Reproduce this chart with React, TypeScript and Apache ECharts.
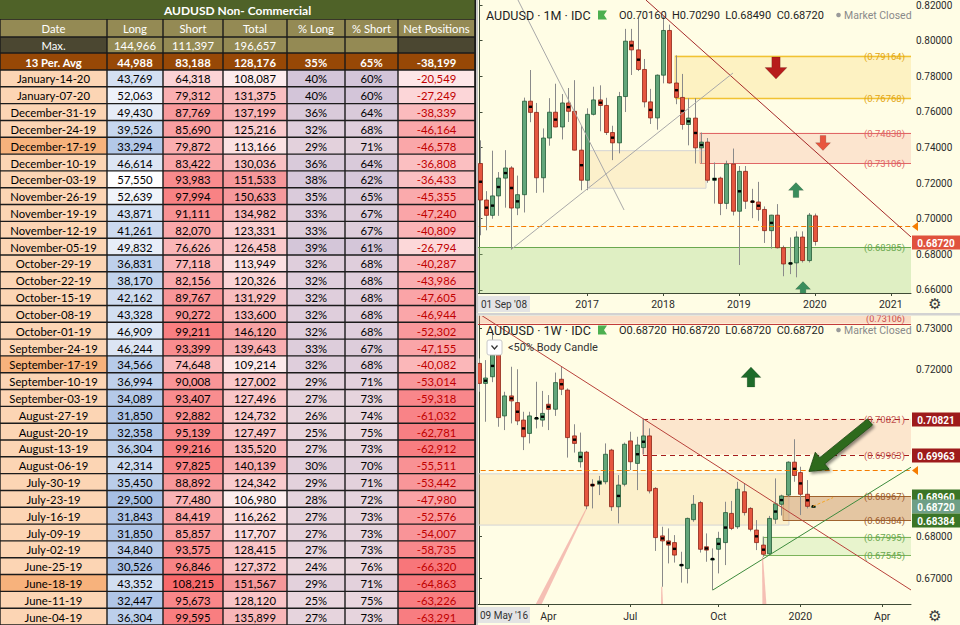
import React, { useEffect, useRef } from "react";
import * as echarts from "echarts";

// ================= COT TABLE DATA =================
const TABLE_TITLE = "AUDUSD Non- Commercial";
const HEADERS = ["Date", "Long", "Short", "Total", "% Long", "% Short", "Net Positions"];
const MAX_LABEL = "Max.";
const MAX_VALUES = [144966, 111397, 196657];
const AVG_LABEL = "13 Per. Avg";
const AVG_VALUES = [44988, 83188, 128176, 35, 65, -38199];

const DATES = [
  "January-14-20", "January-07-20", "December-31-19", "December-24-19", "December-17-19",
  "December-10-19", "December-03-19", "November-26-19", "November-19-19", "November-12-19",
  "November-05-19", "October-29-19", "October-22-19", "October-15-19", "October-08-19",
  "October-01-19", "September-24-19", "September-17-19", "September-10-19", "September-03-19",
  "August-27-19", "August-20-19", "August-13-19", "August-06-19", "July-30-19",
  "July-23-19", "July-16-19", "July-09-19", "July-02-19", "June-25-19",
  "June-18-19", "June-11-19", "June-04-19",
];
const LONG = [43769, 52063, 49430, 39526, 33294, 46614, 57550, 52639, 43871, 41261, 49832, 36831, 38170, 42162, 43328, 46909, 46244, 34566, 36994, 34089, 31850, 32358, 36304, 42314, 35450, 29500, 31843, 31850, 34840, 30526, 43352, 32447, 36304];
const SHORT = [64318, 79312, 87769, 85690, 79872, 83422, 93983, 97994, 91111, 82070, 76626, 77118, 82156, 89767, 90272, 99211, 93399, 74648, 90008, 93407, 92882, 95139, 99216, 97825, 88892, 77480, 84419, 85857, 93575, 96846, 108215, 95673, 99595];
const TOTAL = [108087, 131375, 137199, 125216, 113166, 130036, 151533, 150633, 134982, 123331, 126458, 113949, 120326, 131929, 133600, 146120, 139643, 109214, 127002, 127496, 124732, 127497, 135520, 140139, 124342, 106980, 116262, 117707, 128415, 127372, 151567, 128120, 135899];
const PCT_LONG = [40, 40, 36, 32, 29, 36, 38, 35, 33, 33, 39, 32, 32, 32, 32, 32, 33, 32, 29, 27, 26, 25, 27, 30, 29, 28, 27, 27, 27, 24, 29, 25, 27];
const PCT_SHORT = [60, 60, 64, 68, 71, 64, 62, 65, 67, 67, 61, 68, 68, 68, 68, 68, 67, 68, 71, 73, 74, 75, 73, 70, 71, 72, 73, 73, 73, 76, 71, 75, 73];
const NET = [-20549, -27249, -38339, -46164, -46578, -36808, -36433, -45355, -47240, -40809, -26794, -40287, -43986, -47605, -46944, -52302, -47155, -40082, -53014, -59318, -61032, -62781, -62912, -55511, -53442, -47980, -52576, -54007, -58735, -66320, -64863, -63226, -63291];
const HIGHLIGHT_DATES = ["December-17-19", "September-17-19", "June-18-19"];

// ================= PRICE DATA =================
// Monthly AUDUSD from Aug 2015, [open, high, low, close]
const MONTH_START = { year: 2015, month: 7 };
const MONTHLY = [
  [0.7310, 0.7440, 0.6907, 0.7105], [0.7105, 0.7155, 0.6935, 0.7019], [0.7019, 0.7382, 0.7000, 0.7128],
  [0.7128, 0.7262, 0.7016, 0.7228], [0.7228, 0.7385, 0.7062, 0.7285], [0.7285, 0.7295, 0.6827, 0.7060],
  [0.7060, 0.7242, 0.7020, 0.7135], [0.7135, 0.7680, 0.7035, 0.7660], [0.7660, 0.7835, 0.7542, 0.7597],
  [0.7597, 0.7650, 0.7145, 0.7230], [0.7230, 0.7507, 0.7147, 0.7453], [0.7453, 0.7677, 0.7410, 0.7598],
  [0.7598, 0.7758, 0.7514, 0.7515], [0.7515, 0.7700, 0.7445, 0.7650], [0.7650, 0.7734, 0.7543, 0.7603],
  [0.7603, 0.7778, 0.7384, 0.7385], [0.7385, 0.7520, 0.7160, 0.7216], [0.7216, 0.7620, 0.7160, 0.7586],
  [0.7586, 0.7741, 0.7580, 0.7667], [0.7667, 0.7749, 0.7491, 0.7636], [0.7636, 0.7679, 0.7470, 0.7484],
  [0.7484, 0.7522, 0.7329, 0.7426], [0.7426, 0.7712, 0.7367, 0.7686], [0.7686, 0.8066, 0.7599, 0.7997],
  [0.7997, 0.8066, 0.7807, 0.7948], [0.7948, 0.8125, 0.7829, 0.7838], [0.7838, 0.7897, 0.7625, 0.7656],
  [0.7656, 0.7729, 0.7532, 0.7566], [0.7566, 0.7810, 0.7500, 0.7806], [0.7806, 0.8136, 0.7760, 0.8057],
  [0.8057, 0.8090, 0.7759, 0.7762], [0.7762, 0.7917, 0.7643, 0.7681], [0.7681, 0.7813, 0.7500, 0.7529],
  [0.7529, 0.7677, 0.7412, 0.7565], [0.7565, 0.7677, 0.7310, 0.7398], [0.7398, 0.7484, 0.7310, 0.7430],
  [0.7430, 0.7453, 0.7202, 0.7216], [0.7216, 0.7316, 0.7085, 0.7228], [0.7228, 0.7236, 0.7020, 0.7086],
  [0.7086, 0.7326, 0.7054, 0.7307], [0.7307, 0.7394, 0.7018, 0.7042], [0.7042, 0.7296, 0.6740, 0.7266],
  [0.7266, 0.7296, 0.7055, 0.7098], [0.7098, 0.7168, 0.7003, 0.7094], [0.7094, 0.7207, 0.6988, 0.7052],
  [0.7052, 0.7069, 0.6864, 0.6933], [0.6933, 0.7022, 0.6832, 0.7020], [0.7020, 0.7082, 0.6833, 0.6837],
  [0.6837, 0.6849, 0.6677, 0.6746], [0.6746, 0.6895, 0.6689, 0.6752], [0.6752, 0.6929, 0.6671, 0.6897],
  [0.6897, 0.6929, 0.6754, 0.6765], [0.6765, 0.7032, 0.6754, 0.7020], [0.7016, 0.7029, 0.6849, 0.6872],
];

// Weekly AUDUSD from the week of 14 Jan 2019, [open, high, low, close]
const WEEK_START = "2019-01-14";
const WEEKLY = [
  [0.7215, 0.7227, 0.7147, 0.7167], [0.7167, 0.7223, 0.7075, 0.7180], [0.7183, 0.7295, 0.7170, 0.7235],
  [0.7235, 0.7260, 0.7063, 0.7085], [0.7089, 0.7147, 0.7055, 0.7137], [0.7137, 0.7207, 0.7071, 0.7125],
  [0.7121, 0.7201, 0.7067, 0.7077], [0.7079, 0.7099, 0.7007, 0.7039], [0.7047, 0.7099, 0.7023, 0.7089],
  [0.7083, 0.7171, 0.7059, 0.7084], [0.7079, 0.7149, 0.7063, 0.7095], [0.7117, 0.7139, 0.7055, 0.7105],
  [0.7105, 0.7193, 0.7089, 0.7169], [0.7177, 0.7207, 0.7139, 0.7153], [0.7151, 0.7155, 0.6989, 0.7037],
  [0.7041, 0.7069, 0.7001, 0.7023], [0.6979, 0.7049, 0.6965, 0.7002], [0.7002, 0.7005, 0.6865, 0.6873],
  [0.6925, 0.6937, 0.6867, 0.6921], [0.6925, 0.6945, 0.6899, 0.6933], [0.6931, 0.7023, 0.6925, 0.6997],
  [0.7007, 0.7010, 0.6861, 0.6871], [0.6871, 0.6947, 0.6831, 0.6923], [0.6925, 0.7025, 0.6920, 0.7021],
  [0.7029, 0.7051, 0.6959, 0.6979], [0.6975, 0.7039, 0.6911, 0.7019], [0.7013, 0.7082, 0.6997, 0.7041],
  [0.7041, 0.7059, 0.6903, 0.6909], [0.6915, 0.6918, 0.6765, 0.6797], [0.6801, 0.6823, 0.6679, 0.6789],
  [0.6789, 0.6819, 0.6735, 0.6779], [0.6785, 0.6803, 0.6737, 0.6755], [0.6730, 0.6763, 0.6689, 0.6732],
  [0.6723, 0.6845, 0.6687, 0.6843], [0.6840, 0.6899, 0.6835, 0.6877], [0.6881, 0.6885, 0.6761, 0.6769],
  [0.6775, 0.6807, 0.6739, 0.6767], [0.6745, 0.6771, 0.6671, 0.6746], [0.6769, 0.6811, 0.6711, 0.6795],
  [0.6785, 0.6883, 0.6731, 0.6857], [0.6855, 0.6885, 0.6815, 0.6819], [0.6823, 0.6931, 0.6818, 0.6913],
  [0.6907, 0.6927, 0.6850, 0.6857], [0.6867, 0.6870, 0.6812, 0.6817], [0.6815, 0.6839, 0.6767, 0.6785],
  [0.6779, 0.6799, 0.6751, 0.6757], [0.6758, 0.6849, 0.6755, 0.6843], [0.6841, 0.6939, 0.6830, 0.6878],
  [0.6877, 0.6900, 0.6850, 0.6897], [0.6899, 0.6980, 0.6895, 0.6978], [0.6978, 0.7033, 0.6931, 0.6946],
  [0.6953, 0.6967, 0.6851, 0.6901], [0.6901, 0.6935, 0.6867, 0.6872], [0.6872, 0.6872, 0.6872, 0.6872],
];

const TOP_Y_TICKS = [0.66, 0.68, 0.70, 0.72, 0.74, 0.76, 0.78, 0.80, 0.82];
const BOT_Y_TICKS = [0.67, 0.68, 0.72, 0.73];
const ORANGE_LEVEL = 0.6959;

// Drawing-tool annotations (data coordinates: bar index, price)
const TOP_ZONES = [
  { kind: "gold", from: 30.9, hi: 0.79164, lo: 0.76768, marks: "both" },
  { kind: "red", from: 34.85, hi: 0.74838, lo: 0.73106, marks: "both" },
  { kind: "beige", from: 17.3, to: 35.8, hi: 0.7382, lo: 0.7171, marks: "none" },
  { kind: "green", from: -1, hi: 0.68385, lo: 0.6, marks: "hi" },
];
const TOP_LINES = [
  { kind: "orangeDash", a: [-1, ORANGE_LEVEL], b: [70, ORANGE_LEVEL] },
  { kind: "darkred", a: [26.3, 0.8228], b: [68.2, 0.68974] },
  { kind: "grey", a: [6.08, 0.82281], b: [22.85, 0.7049] },
  { kind: "grey", a: [4.98, 0.6827], b: [40.06, 0.7818] },
];
const TOP_MARKS = [
  { shape: "arrow", kind: "darkred", dir: -1, at: [46.86, 0.7846], size: 22 },
  { shape: "arrow", kind: "orange", dir: -1, at: [54.29, 0.7425], size: 15 },
  { shape: "arrow", kind: "green", dir: 1, at: [50.02, 0.7161], size: 15 },
  { shape: "arrow", kind: "green", dir: 1, at: [51.13, 0.6605], size: 15 },
];
const TOP_TAGS = [
  { kind: "tri", price: ORANGE_LEVEL },
  { kind: "red", price: MONTHLY[MONTHLY.length - 1][3] },
];

const BOT_ZONES = [
  { kind: "topband", from: -1, hi: 0.75, lo: 0.73106, marks: "lo", labelDy: -5.5, labelSize: 9 },
  { kind: "pink", from: 26.03, hi: 0.70821, lo: 0.69963, marks: "both" },
  { kind: "beige", from: -1, to: 49.2, hi: 0.695, lo: 0.6827, marks: "none" },
  { kind: "brown", from: 48.25, hi: 0.68967, lo: 0.68384, marks: "both" },
  { kind: "lgreen", from: 45.08, hi: 0.67995, lo: 0.67545, marks: "both" },
];
const BOT_LINES = [
  { kind: "orangeDash", a: [-1, ORANGE_LEVEL], b: [70, ORANGE_LEVEL] },
  { kind: "red", a: [0.32, 0.7331], b: [68.7, 0.667] },
  { kind: "green", a: [37.1, 0.6671], b: [68.7, 0.69671] },
  { kind: "orangeDot", a: [53, 0.6872], b: [56.2, 0.6893] },
];
const BOT_MARKS = [
  { shape: "beam", a: [17, 0.6865], b: [8.25, 0.66], w: 6 },
  { shape: "beam", a: [29, 0.6679], b: [29.1, 0.66], w: 3 },
  { shape: "beam", a: [45, 0.6751], b: [45.4, 0.66], w: 5 },
  { shape: "arrow", kind: "dkgreen", dir: 1, at: [43.17, 0.71824], size: 20 },
  { shape: "bigArrow", a: [62.06, 0.70744], b: [52.38, 0.69556] },
];
const BOT_TAGS = [
  { kind: "tri", price: ORANGE_LEVEL },
  { kind: "darkred", price: 0.70821 },
  { kind: "darkred", price: 0.69963 },
  { kind: "dkgreen", price: 0.6896 },
  { kind: "midgreen", price: WEEKLY[WEEKLY.length - 1][3] },
  { kind: "dkgreen", price: 0.68384 },
];

// ================= STYLES / LAYOUT =================
const BG = "#fffde5";
const UI_FONT = "Roboto, 'Liberation Sans', sans-serif";
const TABLE_FONT = "Lato, 'Liberation Sans', sans-serif";
const AXIS_COLOR = "#3f4b36";
const LABEL_COLOR = "#2b2b2b";
const UP_FILL = "#62a67a";
const UP_EDGE = "#245c38";
const DN_FILL = "#e5563f";
const DN_EDGE = "#8e2416";
const WICK = "#8a8a8a";

const ZONE_STYLE: any = {
  gold: { fill: "rgba(250,222,120,0.32)", line: "#f1c232", label: "#e3a50f", width: 1.3 },
  red: { fill: "rgba(244,170,150,0.28)", line: "#e06666", label: "#e06666", width: 1 },
  beige: { fill: "rgba(245,215,150,0.32)", border: "#d4d4d4" },
  green: { fill: "rgba(160,210,130,0.34)", line: "#6aa84f", label: "#6aa84f", width: 1.2 },
  pink: { fill: "rgba(244,180,150,0.30)", line: "#a61c1c", label: "#c0504d", width: 1.2, dash: [5, 4] },
  brown: { fill: "rgba(196,130,80,0.45)", line: "#a0632e", label: "#9c5a2a", width: 1.2 },
  lgreen: { fill: "rgba(190,225,160,0.35)", line: "#7cb35a", label: "#6aa84f", width: 1.2 },
  topband: { fill: "rgba(240,160,140,0.35)", line: "#c23b3b", label: "#c94a4a", width: 1.2 },
};
const LINE_STYLE: any = {
  orangeDash: { color: "#f57c00", width: 1.2, dash: [5, 3] },
  orangeDot: { color: "#f5a623", width: 1, dash: [3, 2] },
  darkred: { color: "#a52a2a", width: 1 },
  grey: { color: "#a9a9a9", width: 1 },
  red: { color: "#b8413a", width: 1 },
  green: { color: "#3d8b3d", width: 1 },
};
const ARROW_COLOR: any = { darkred: "#b71c1c", orange: "#e8553e", green: "#3a8d5c", dkgreen: "#1e6b2a" };
const TAG_COLOR: any = { red: "#e0523d", darkred: "#9e1b1b", dkgreen: "#3b7526", midgreen: "#6e9f86" };

const COL_EDGES = [0, 107, 163, 223, 287, 345, 398, 475];
const HEAD_ROW_EDGES = [0, 19, 37, 53, 70];
const TABLE_H = 625;

// ================= HELPERS =================
const fmt = (n: number) => n.toLocaleString("en-US");
const hexRgb = (h: string) => [1, 3, 5].map((i) => parseInt(h.slice(i, i + 2), 16));
const mix = (a: string, b: string, t: number) => {
  const A = hexRgb(a), B = hexRgb(b);
  const c = A.map((v, i) => Math.round(v + (B[i] - v) * t));
  return `rgb(${c[0]},${c[1]},${c[2]})`;
};
const scaleColor = (arr: number[], v: number, lo: string, hi: string) => {
  const mn = Math.min(...arr), mx = Math.max(...arr);
  return mix(lo, hi, (v - mn) / (mx - mn));
};
const txt = (x: number, y: number, text: string, font: string, fill: string, align = "left") => ({
  type: "text", x, y, z: 100,
  style: { text, font, fill, align, textAlign: align, verticalAlign: "middle", textVerticalAlign: "middle" },
});

function buildCells() {
  const cells: any[] = [];
  const DARK = "#4b4731", KHAKI = "#948a54";
  cells.push({ c0: 0, c1: 7, r0: 0, r1: 4 + DATES.length, fill: "#1b1b1b", text: "", noInset: true });
  cells.push({ c0: 0, c1: 7, r0: 0, r1: 1, fill: "#4f6228", text: TABLE_TITLE, color: "#fff", bold: true, size: 12, noInset: true });
  HEADERS.forEach((h, i) => cells.push({ c0: i, c1: i + 1, r0: 1, r1: 2, fill: KHAKI, text: h, color: "#fff" }));
  cells.push({ c0: 0, c1: 1, r0: 2, r1: 3, fill: DARK, text: MAX_LABEL, color: "#fff" });
  MAX_VALUES.forEach((v, i) => cells.push({ c0: i + 1, c1: i + 2, r0: 2, r1: 3, fill: KHAKI, text: fmt(v), color: "#fff" }));
  cells.push({ c0: 4, c1: 5, r0: 2, r1: 3, fill: KHAKI, text: "" });
  cells.push({ c0: 5, c1: 6, r0: 2, r1: 3, fill: KHAKI, text: "" });
  cells.push({ c0: 6, c1: 7, r0: 2, r1: 3, fill: DARK, text: "" });
  const avgTexts = [AVG_LABEL, fmt(AVG_VALUES[0]), fmt(AVG_VALUES[1]), fmt(AVG_VALUES[2]), AVG_VALUES[3] + "%", AVG_VALUES[4] + "%", fmt(AVG_VALUES[5])];
  avgTexts.forEach((t, i) => cells.push({ c0: i, c1: i + 1, r0: 3, r1: 4, fill: "#974806", text: t, color: "#fff", bold: true }));
  DATES.forEach((d, i) => {
    const r = 4 + i;
    const pct = scaleColor(PCT_LONG, PCT_LONG[i], "#ead7de", "#d3c5d9");
    const row = [
      { text: d, fill: HIGHLIGHT_DATES.includes(d) ? "#f7b27c" : "#fcd5b4" },
      { text: fmt(LONG[i]), fill: scaleColor(LONG, LONG[i], "#a7bfe4", "#ffffff") },
      { text: fmt(SHORT[i]), fill: scaleColor(SHORT, SHORT[i], "#fbd3d5", "#f8696b") },
      { text: fmt(TOTAL[i]), fill: scaleColor(TOTAL, TOTAL[i], "#fdeeef", "#f6979a") },
      { text: PCT_LONG[i] + "%", fill: pct },
      { text: PCT_SHORT[i] + "%", fill: pct },
      { text: fmt(NET[i]), fill: scaleColor(NET, NET[i], "#f8767a", "#fde7e8"), color: "#c00000" },
    ];
    row.forEach((c: any, k) => cells.push({ c0: k, c1: k + 1, r0: r, r1: r + 1, fill: c.fill, text: c.text, color: c.color || "#000" }));
  });
  return cells;
}

const rowEdge = (r: number) => (r < 4 ? HEAD_ROW_EDGES[r] : 70 + (r - 4) * ((TABLE_H - 70) / DATES.length));

function renderCell(cells: any[]) {
  return (params: any, api: any) => {
    const c = cells[params.dataIndex];
    const p0 = api.coord([COL_EDGES[c.c0], rowEdge(c.r0)]);
    const p1 = api.coord([COL_EDGES[c.c1], rowEdge(c.r1)]);
    const ins = c.noInset ? 0 : 0.7;
    const kids: any[] = [{
      type: "rect",
      shape: { x: p0[0] + ins, y: p0[1] + ins, width: p1[0] - p0[0] - 2 * ins, height: p1[1] - p0[1] - 2 * ins },
      style: { fill: c.fill },
    }];
    if (c.text) {
      kids.push({
        type: "text", x: (p0[0] + p1[0]) / 2, y: (p0[1] + p1[1]) / 2 + 0.5,
        style: {
          text: c.text, fill: c.color, font: `${c.bold ? "bold " : ""}${c.size || 11.3}px ${TABLE_FONT}`,
          align: "center", textAlign: "center", verticalAlign: "middle", textVerticalAlign: "middle",
        },
      });
    }
    return { type: "group", children: kids };
  };
}

function renderCandles(rows: number[][]) {
  return (params: any, api: any) => {
    const i = api.value(0);
    const [o, h, l, c] = rows[params.dataIndex];
    const pO = api.coord([i, o]), pC = api.coord([i, c]), pH = api.coord([i, h]), pL = api.coord([i, l]);
    const step = api.size([1, 0])[0];
    const w = Math.max(2, Math.round(step * 0.62));
    const cx = Math.round(pO[0]) + 0.5;
    const up = c >= o;
    const yTop = Math.min(pO[1], pC[1]);
    const bh = Math.max(1, Math.abs(pO[1] - pC[1]));
    const kids: any[] = [
      { type: "line", shape: { x1: cx, y1: pH[1], x2: cx, y2: pL[1] }, style: { stroke: WICK, lineWidth: 1 } },
      {
        type: "rect", shape: { x: cx - w / 2, y: yTop, width: w, height: bh },
        style: { fill: up ? UP_FILL : DN_FILL, stroke: up ? UP_EDGE : DN_EDGE, lineWidth: 0.8 },
      },
    ];
    if (Math.abs(c - o) <= 0.5 * (h - l)) {
      const my = (pO[1] + pC[1]) / 2;
      kids.push({ type: "rect", shape: { x: cx - 1.6, y: my - 1.2, width: 3.2, height: 2.4 }, style: { fill: "#000" } });
    }
    return { type: "group", children: kids };
  };
}

function renderZones(zones: any[]) {
  return (params: any, api: any) => {
    const z = zones[params.dataIndex];
    const s = ZONE_STYLE[z.kind];
    const cs = params.coordSys;
    const right = cs.x + cs.width;
    const bottom = cs.y + cs.height;
    const clampY = (y: number) => Math.min(bottom, Math.max(cs.y, y));
    const x0 = Math.max(cs.x, api.coord([z.from, z.hi])[0]);
    const x1 = z.to != null ? api.coord([z.to, z.hi])[0] : right;
    const yHi = clampY(api.coord([z.from, z.hi])[1]);
    const yLo = clampY(api.coord([z.from, z.lo])[1]);
    const kids: any[] = [{
      type: "rect", shape: { x: x0, y: yHi, width: x1 - x0, height: yLo - yHi },
      style: { fill: s.fill, stroke: s.border || null, lineWidth: s.border ? 1 : 0 },
    }];
    const levels = z.marks === "both" ? [z.hi, z.lo] : z.marks === "hi" ? [z.hi] : z.marks === "lo" ? [z.lo] : [];
    if (z.marks === "both" && x0 > cs.x + 1) {
      kids.push({ type: "line", shape: { x1: x0, y1: yHi, x2: x0, y2: yLo }, style: { stroke: s.line, lineWidth: 1, opacity: 0.6 } });
    }
    levels.forEach((v: number) => {
      const y = Math.round(api.coord([0, v])[1]) + 0.5;
      kids.push({ type: "line", shape: { x1: x0, y1: y, x2: x1, y2: y }, style: { stroke: s.line, lineWidth: s.width, lineDash: s.dash || null } });
      kids.push({
        type: "text", x: right - 6, y: y + (z.labelDy || 0),
        style: { text: `(${v.toFixed(5)})`, fill: s.label, font: `${z.labelSize || 9.5}px ${UI_FONT}`, align: "right", textAlign: "right", verticalAlign: "middle", textVerticalAlign: "middle" },
      });
    });
    return { type: "group", children: kids };
  };
}

function renderLines(lines: any[]) {
  return (params: any, api: any) => {
    const L = lines[params.dataIndex];
    const s = LINE_STYLE[L.kind];
    const p1 = api.coord(L.a), p2 = api.coord(L.b);
    if (L.a[1] === L.b[1]) { p1[1] = p2[1] = Math.round(p1[1]) + 0.5; }
    return { type: "line", shape: { x1: p1[0], y1: p1[1], x2: p2[0], y2: p2[1] }, style: { stroke: s.color, lineWidth: s.width, lineDash: s.dash || null } };
  };
}

function renderMarks(marks: any[]) {
  return (params: any, api: any) => {
    const m = marks[params.dataIndex];
    if (m.shape === "arrow") {
      const [cx, cy] = api.coord(m.at);
      const s = m.size, d = m.dir; // 1 up, -1 down
      const unit = [[0, -0.5], [0.5, 0.02], [0.19, 0.02], [0.19, 0.5], [-0.19, 0.5], [-0.19, 0.02], [-0.5, 0.02]];
      const pts = unit.map(([ux, uy]) => [cx + ux * s, cy + uy * s * d]);
      return { type: "polygon", shape: { points: pts }, style: { fill: ARROW_COLOR[m.kind], stroke: "rgba(0,0,0,0.25)", lineWidth: 0.6 } };
    }
    const A = api.coord(m.a), B = api.coord(m.b);
    const dx = B[0] - A[0], dy = B[1] - A[1];
    const len = Math.sqrt(dx * dx + dy * dy);
    const ux = dx / len, uy = dy / len, nx = -uy, ny = ux;
    if (m.shape === "beam") {
      const pts = [
        [A[0] + nx * 0.5, A[1] + ny * 0.5], [A[0] - nx * 0.5, A[1] - ny * 0.5],
        [B[0] - nx * m.w / 2, B[1] - ny * m.w / 2], [B[0] + nx * m.w / 2, B[1] + ny * m.w / 2],
      ];
      return { type: "polygon", shape: { points: pts }, style: { fill: "rgba(236,140,140,0.55)" } };
    }
    // big arrow: tail A -> head B
    const hl = 17, sw = 8, hw = 22;
    const bx = B[0] - ux * hl, by = B[1] - uy * hl;
    const pts = [
      [A[0] + nx * sw / 2, A[1] + ny * sw / 2], [bx + nx * sw / 2, by + ny * sw / 2], [bx + nx * hw / 2, by + ny * hw / 2],
      [B[0], B[1]], [bx - nx * hw / 2, by - ny * hw / 2], [bx - nx * sw / 2, by - ny * sw / 2], [A[0] - nx * sw / 2, A[1] - ny * sw / 2],
    ];
    return {
      type: "polygon", shape: { points: pts },
      style: { fill: "#2f6b1f", stroke: "#1c4411", lineWidth: 0.8, shadowBlur: 3, shadowColor: "rgba(0,0,0,0.45)", shadowOffsetX: 2, shadowOffsetY: 2 },
    };
  };
}

function renderTags(tags: any[]) {
  return (params: any, api: any) => {
    const t = tags[params.dataIndex];
    const cs = params.coordSys;
    const x = cs.x + cs.width;
    const y = Math.round(api.coord([0, t.price])[1]) + 0.5;
    if (t.kind === "tri") {
      return { type: "polygon", shape: { points: [[x + 1, y], [x + 7, y - 4.5], [x + 7, y + 4.5]] }, style: { fill: "#f57c00" } };
    }
    return {
      type: "group",
      children: [
        { type: "rect", shape: { x: x + 1, y: y - 7, width: 960 - x - 1, height: 14 }, style: { fill: TAG_COLOR[t.kind] } },
        {
          type: "text", x: x + 1 + (960 - x - 1) / 2, y: y + 0.5,
          style: { text: t.price.toFixed(5), fill: "#fff", font: `bold 10px ${UI_FONT}`, align: "center", textAlign: "center", verticalAlign: "middle", textVerticalAlign: "middle" },
        },
      ],
    };
  };
}

// ---- x-axis label logic ----
const TOP_X = { min: -0.24, max: 68.2 };
const BOT_X = { min: -0.16, max: 68.57 };
const TOP_Y = { min: 0.65829, max: 0.82281 };
const BOT_Y = { min: 0.66376, max: 0.73288 };
const MONTH_NAMES = ["Jan", "Feb", "Mar", "Apr", "May", "Jun", "Jul", "Aug", "Sep", "Oct", "Nov", "Dec"];

const topXTicks: number[] = [];
for (let i = Math.ceil(TOP_X.min); i <= TOP_X.max; i++) {
  if ((MONTH_START.month + i) % 12 === 0 && i - TOP_X.min > 8) topXTicks.push(i);
}
const topXLabel = (v: number) => String(MONTH_START.year + Math.floor((MONTH_START.month + Math.round(v)) / 12));

const WEEK0 = Date.parse(WEEK_START + "T00:00:00Z");
const weekDate = (i: number) => new Date(WEEK0 + i * 7 * 86400000);
const botXTicks: number[] = [];
for (let i = 1; i <= BOT_X.max; i++) {
  const d = weekDate(i), p = weekDate(i - 1);
  if (d.getUTCMonth() !== p.getUTCMonth() && d.getUTCMonth() % 3 === 0) botXTicks.push(i);
}
const botXLabel = (v: number) => {
  const d = weekDate(Math.round(v));
  return d.getUTCMonth() === 0 ? String(d.getUTCFullYear()) : MONTH_NAMES[d.getUTCMonth()];
};

function priceXAxis(grid: number, ext: any, ticks: number[], fmtFn: any, margin: number) {
  return {
    gridIndex: grid, type: "value", min: ext.min, max: ext.max,
    axisLine: { show: true, lineStyle: { color: AXIS_COLOR, width: 1 } },
    axisTick: { show: true, customValues: ticks, length: 3, lineStyle: { color: AXIS_COLOR } },
    axisLabel: { customValues: ticks, formatter: fmtFn, color: LABEL_COLOR, fontSize: 10.5, fontFamily: UI_FONT, margin },
    splitLine: { show: false },
  };
}
function priceYAxis(grid: number, ext: any, ticks: number[]) {
  return {
    gridIndex: grid, type: "value", position: "right", min: ext.min, max: ext.max, scale: true,
    axisLine: { show: true, lineStyle: { color: AXIS_COLOR, width: 1 } },
    axisTick: { show: true, customValues: ticks, length: 3, lineStyle: { color: AXIS_COLOR } },
    axisLabel: { customValues: ticks, formatter: (v: number) => v.toFixed(5), color: LABEL_COLOR, fontSize: 10, fontFamily: UI_FONT, margin: 5 },
    splitLine: { show: false },
  };
}

const ohlcText = (r: number[]) => `O${r[0].toFixed(5)}  H${r[1].toFixed(5)}  L${r[2].toFixed(5)}  C${r[3].toFixed(5)}`;

function header(y: number, title: string, row: number[]) {
  return [
    txt(486, y, title, `12.5px ${UI_FONT}`, "#1e1e1e"),
    { type: "polygon", z: 100, shape: { points: [[598, y - 4.5], [607, y - 4.5], [604, y], [607, y + 4.5], [598, y + 4.5]] }, style: { fill: "#4caf50" } },
    txt(619, y, ohlcText(row), `11px ${UI_FONT}`, "#1e1e1e"),
    { type: "circle", z: 100, shape: { cx: 838.5, cy: y, r: 2.3 }, style: { fill: "#9a9a9a" } },
    txt(844, y, "Market Closed", `10.5px ${UI_FONT}`, "#8a8a8a"),
  ];
}

function buildOption() {
  const cells = buildCells();
  const sCustom = (name: string, grid: number, data: any[], renderItem: any, z: number, clip = true) => ({
    type: "custom", name, xAxisIndex: grid, yAxisIndex: grid, data, renderItem, z, clip, silent: true,
  });
  const anchor = (items: any[]) => items.map((it: any) => it.at || it.a || [0, 0]);
  const tagAnchor = (items: any[]) => items.map((t: any) => [0, t.price]);

  const graphic: any[] = [
    { type: "rect", z: 100, shape: { x: 474.5, y: 0, width: 1.5, height: 625 }, style: { fill: "#1b1b1b" } },
    { type: "rect", z: 100, shape: { x: 476, y: 0, width: 2, height: 625 }, style: { fill: "#c9c9c9" } },
    { type: "rect", z: 100, shape: { x: 476, y: 313, width: 484, height: 2.5 }, style: { fill: "#d2d2d2" } },
    ...header(15, "AUDUSD · 1M · IDC", MONTHLY[MONTHLY.length - 1]),
    ...header(330, "AUDUSD · 1W · IDC", WEEKLY[WEEKLY.length - 1]),
    { type: "rect", z: 100, shape: { x: 487, y: 340, width: 15, height: 15, r: 2 }, style: { fill: "#ffffff", stroke: "#c8c8c8", lineWidth: 1 } },
    { type: "polyline", z: 101, shape: { points: [[491.5, 345.5], [494.5, 349], [497.5, 345.5]] }, style: { stroke: "#333", lineWidth: 1.2, fill: null } },
    txt(508, 347.5, "<50% Body Candle", `11px ${UI_FONT}`, "#333333"),
    { type: "rect", z: 100, shape: { x: 478, y: 296, width: 52, height: 16 }, style: { fill: "#e4e4e4" } },
    txt(504, 304, "01 Sep '08", `10px ${UI_FONT}`, "#333333", "center"),
    { type: "rect", z: 100, shape: { x: 478, y: 607, width: 52, height: 16 }, style: { fill: "#e4e4e4" } },
    txt(504, 615, "09 May '16", `10px ${UI_FONT}`, "#333333", "center"),
    txt(935, 304, "⚙", `15px 'DejaVu Sans'`, "#3a3a3a", "center"),
    txt(935, 616, "⚙", `15px 'DejaVu Sans'`, "#3a3a3a", "center"),
  ];

  return {
    animation: false,
    backgroundColor: BG,
    grid: [
      { left: 0, top: 0, width: 475, height: 625 },
      { left: 478, top: 0, width: 433, height: 293 },
      { left: 478, top: 316, width: 433, height: 288 },
    ],
    xAxis: [
      { gridIndex: 0, type: "value", min: 0, max: 475, show: false },
      priceXAxis(1, TOP_X, topXTicks, topXLabel, 6),
      priceXAxis(2, BOT_X, botXTicks, botXLabel, 7),
    ],
    yAxis: [
      { gridIndex: 0, type: "value", min: 0, max: TABLE_H, inverse: true, show: false },
      priceYAxis(1, TOP_Y, TOP_Y_TICKS),
      priceYAxis(2, BOT_Y, BOT_Y_TICKS),
    ],
    series: [
      sCustom("table", 0, cells.map((c: any) => [COL_EDGES[c.c0], rowEdge(c.r0)]), renderCell(cells), 2, false),
      sCustom("topZones", 1, TOP_ZONES.map((z) => [Math.max(z.from, 0), z.hi]), renderZones(TOP_ZONES), 1, false),
      sCustom("monthly", 1, MONTHLY.map((r, i) => [i, r[3]]), renderCandles(MONTHLY), 3),
      sCustom("topLines", 1, anchor(TOP_LINES), renderLines(TOP_LINES), 4),
      sCustom("topMarks", 1, anchor(TOP_MARKS), renderMarks(TOP_MARKS), 5),
      sCustom("topTags", 1, tagAnchor(TOP_TAGS), renderTags(TOP_TAGS), 6, false),
      sCustom("botZones", 2, BOT_ZONES.map((z) => [Math.max(z.from, 0), z.hi]), renderZones(BOT_ZONES), 1, false),
      sCustom("weekly", 2, WEEKLY.map((r, i) => [i, r[3]]), renderCandles(WEEKLY), 3),
      sCustom("botLines", 2, anchor(BOT_LINES), renderLines(BOT_LINES), 4),
      sCustom("botMarks", 2, anchor(BOT_MARKS), renderMarks(BOT_MARKS), 5),
      sCustom("botTags", 2, tagAnchor(BOT_TAGS), renderTags(BOT_TAGS), 6, false),
    ],
    graphic,
  };
}

export default function App() {
  const ref = useRef<HTMLDivElement>(null);
  useEffect(() => {
    if (!ref.current) return;
    const chart = echarts.init(ref.current, null, { renderer: "svg" });
    chart.setOption(buildOption() as any);
    return () => chart.dispose();
  }, []);
  return <div ref={ref} style={{ position: "fixed", left: 0, top: 0, width: 960, height: 625 }} />;
}
